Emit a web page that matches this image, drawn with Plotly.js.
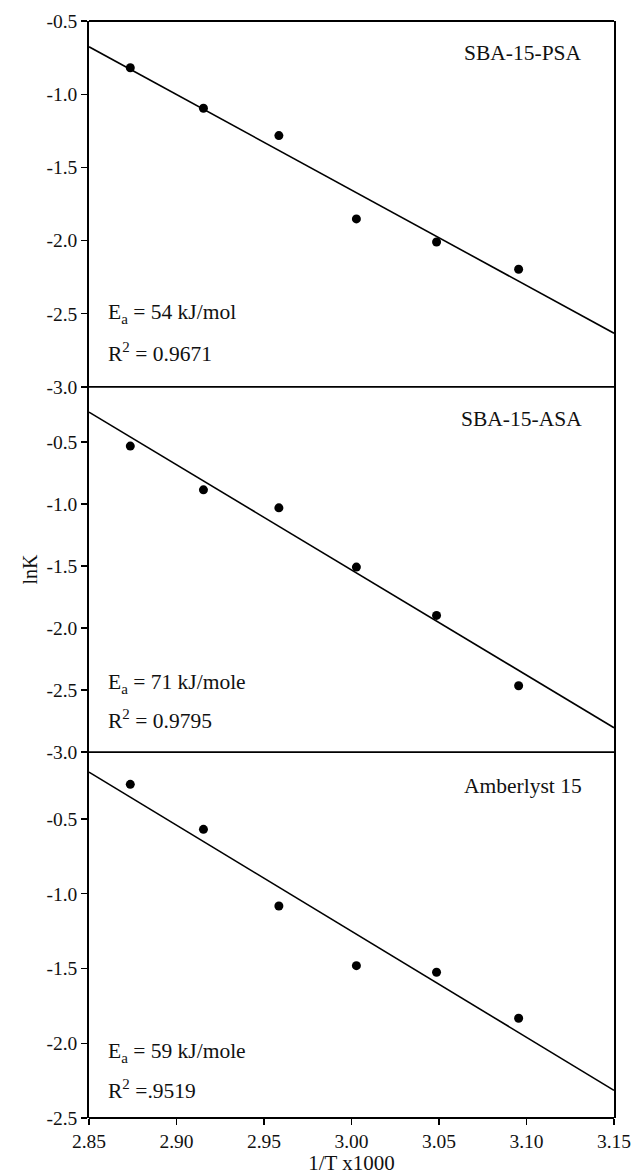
<!DOCTYPE html>
<html>
<head>
<meta charset="utf-8">
<script src="https://cdn.plot.ly/plotly-3.0.1.min.js"></script>
<style>html,body{margin:0;padding:0;background:#fff;}#chart{width:632px;height:1175px;}</style>
</head>
<body>
<div id="chart"></div>
<script>
// 1/T x1000 values
const invT = [2.8736, 2.9154, 2.9585, 3.0028, 3.0486, 3.0955];

// lnK values per catalyst
const lnK_PSA = [-0.819, -1.096, -1.283, -1.852, -2.010, -2.196];
const lnK_ASA = [-0.532, -0.885, -1.030, -1.508, -1.898, -2.465];
const lnK_AMB = [-0.268, -0.569, -1.082, -1.481, -1.525, -1.833];

// fitted line end points
const fitX = [2.85, 3.15];
const fit_PSA = [-0.676, -2.633];
const fit_ASA = [-0.258, -2.804];
const fit_AMB = [-0.186, -2.315];

// tick labels
const xTickVals = [2.85, 2.90, 2.95, 3.00, 3.05, 3.10, 3.15];
const xTickText = ["2.85", "2.90", "2.95", "3.00", "3.05", "3.10", "3.15"];
const yTickVals1 = [-3.0, -2.5, -2.0, -1.5, -1.0, -0.5];
const yTickText1 = ["-3.0", "-2.5", "-2.0", "-1.5", "-1.0", "-0.5"];
const yTickVals2 = [-3.0, -2.5, -2.0, -1.5, -1.0, -0.5];
const yTickText2 = ["-3.0", "-2.5", "-2.0", "-1.5", "-1.0", "-0.5"];
const yTickVals3 = [-2.5, -2.0, -1.5, -1.0, -0.5];
const yTickText3 = ["-2.5", "-2.0", "-1.5", "-1.0", "-0.5"];

// panel labels and fit statistics
const panelNames = ["SBA-15-PSA", "SBA-15-ASA", "Amberlyst 15"];
const eaText = ["E<sub>a</sub> = 54 kJ/mol", "E<sub>a</sub> = 71 kJ/mole", "E<sub>a</sub> = 59 kJ/mole"];
const r2Text = ["R<sup>2</sup> = 0.9671", "R<sup>2</sup> = 0.9795", "R<sup>2</sup> =.9519"];

const FONT = "Liberation Serif, Times New Roman, serif";
const series = [lnK_PSA, lnK_ASA, lnK_AMB];
const fits = [fit_PSA, fit_ASA, fit_AMB];
const yaxes = ["y", "y2", "y3"];
const xaxes = ["x", "x2", "x3"];

const traces = [];
series.forEach((s, i) => {
  traces.push({x: fitX, y: fits[i], yaxis: yaxes[i], xaxis: xaxes[i], mode: "lines",
    line: {color: "#000", width: 1.6}, hoverinfo: "skip", showlegend: false});
  traces.push({x: invT, y: s, yaxis: yaxes[i], xaxis: xaxes[i], mode: "markers",
    marker: {color: "#000", size: 9}, showlegend: false});
});

const ann = [];
const titleY = [0.913, 0.912, 0.907];
const eaY = [0.202, 0.189, 0.180];
const r2Y = [0.093, 0.090, 0.077];
const xRef = ["x domain", "x2 domain", "x3 domain"];
const yRef = ["y domain", "y2 domain", "y3 domain"];
for (let i = 0; i < 3; i++) {
  ann.push({xref: xRef[i], yref: yRef[i], x: 0.943, y: titleY[i], xanchor: "right", yanchor: "middle",
    text: panelNames[i], showarrow: false, font: {family: FONT, size: 21.5, color: "#111"}});
  ann.push({xref: xRef[i], yref: yRef[i], x: 0.032, y: eaY[i], xanchor: "left", yanchor: "middle",
    text: eaText[i], showarrow: false, font: {family: FONT, size: 21.5, color: "#111"}});
  ann.push({xref: xRef[i], yref: yRef[i], x: 0.032, y: r2Y[i], xanchor: "left", yanchor: "middle",
    text: r2Text[i], showarrow: false, font: {family: FONT, size: 21.5, color: "#111"}});
}

// horizontal panel borders (top, two separators, bottom)
const borderY = [1, 0.6664, 0.3336, 0];
const shapes = borderY.map(yy => ({type: "line", xref: "paper", yref: "paper",
  x0: 0, x1: 1, y0: yy, y1: yy, line: {color: "#000", width: 1.8}}));

const yBase = {showline: true, mirror: true, linecolor: "#000", linewidth: 1.8,
  showgrid: false, zeroline: false,
  ticks: "outside", ticklen: 6, tickwidth: 1.3, tickcolor: "#000",
  tickmode: "array", tickfont: {family: FONT, size: 19.5, color: "#111"}};
const xHidden = {range: [2.85, 3.15], showline: false, showgrid: false, zeroline: false,
  ticks: "", showticklabels: false};

const layout = {
  width: 632, height: 1175,
  margin: {l: 89, r: 18, t: 21, b: 57},
  paper_bgcolor: "#fff", plot_bgcolor: "#fff",
  font: {family: FONT, color: "#111"},
  xaxis: Object.assign({}, xHidden, {anchor: "y"}),
  xaxis2: Object.assign({}, xHidden, {anchor: "y2"}),
  xaxis3: {range: [2.85, 3.15], anchor: "y3", showline: false, showgrid: false, zeroline: false,
    tickmode: "array", tickvals: xTickVals, ticktext: xTickText,
    ticks: "outside", ticklen: 6, tickwidth: 1.3, tickcolor: "#000",
    tickfont: {family: FONT, size: 19.5, color: "#111"},
    title: {text: "1/T x1000", font: {family: FONT, size: 21, color: "#111"}, standoff: 0}},
  yaxis: Object.assign({}, yBase, {domain: [0.6664, 1], range: [-3.0, -0.5], anchor: "x",
    tickvals: yTickVals1, ticktext: yTickText1}),
  yaxis2: Object.assign({}, yBase, {domain: [0.3336, 0.6664], range: [-3.0, -0.055], anchor: "x2",
    tickvals: yTickVals2, ticktext: yTickText2,
    title: {text: "lnK", font: {family: FONT, size: 20, color: "#111"}, standoff: 3}}),
  yaxis3: Object.assign({}, yBase, {domain: [0, 0.3336], range: [-2.5, -0.052], anchor: "x3",
    tickvals: yTickVals3, ticktext: yTickText3}),
  shapes: shapes,
  annotations: ann
};

Plotly.newPlot("chart", traces, layout, {staticPlot: true});
</script>
</body>
</html>
